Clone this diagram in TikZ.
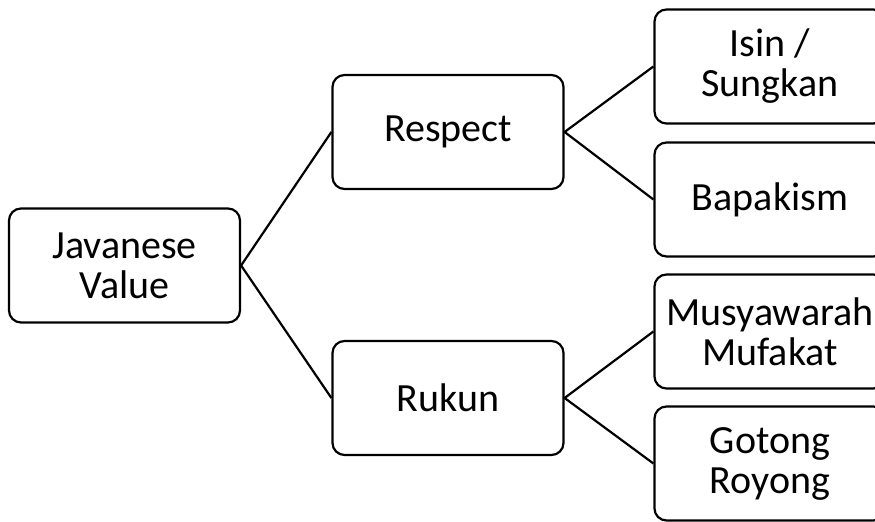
\documentclass[tikz,border=0pt]{standalone}
\usepackage{fontspec}
\setmainfont{Carlito}
\usetikzlibrary{positioning}
\begin{document}
\begin{tikzpicture}[
        x=0.5pt, y=-0.5pt,
        % Every value sits in a rounded box of the same size
        valuebox/.style={draw, line width=1.1pt, rounded corners=6pt,
            minimum width=115.5pt, minimum height=57pt, inner sep=2pt,
            align=center, font=\fontsize{20}{20}\selectfont},
        link/.style={line width=1.1pt}
    ]
    \useasboundingbox (0,0) rectangle (875,522);
    % root and the two main values
    \node[valuebox] (javanese) at (124.5,265.5) {Javanese\\Value};
    \node[valuebox] (respect) at (448,132) {Respect};
    \node[valuebox] (rukun) at (448,398) {Rukun};
    % leaves, cut by the right edge
    \node[valuebox] (isin) at (770,66.5) {Isin /\\Sungkan};
    \node[valuebox] (bapakism) at (770,199.5) {Bapakism};
    \node[valuebox] (musyawarah) at (770,331.5) {Musyawarah\\Mufakat};
    \node[valuebox] (gotong) at (770,463.5) {Gotong\\Royong};
    \draw[link] (javanese.east) -- (respect.west);
    \draw[link] (javanese.east) -- (rukun.west);
    \draw[link] (respect.east) -- (isin.west);
    \draw[link] (respect.east) -- (bapakism.west);
    \draw[link] (rukun.east) -- (musyawarah.west);
    \draw[link] (rukun.east) -- (gotong.west);
\end{tikzpicture}
\end{document}
